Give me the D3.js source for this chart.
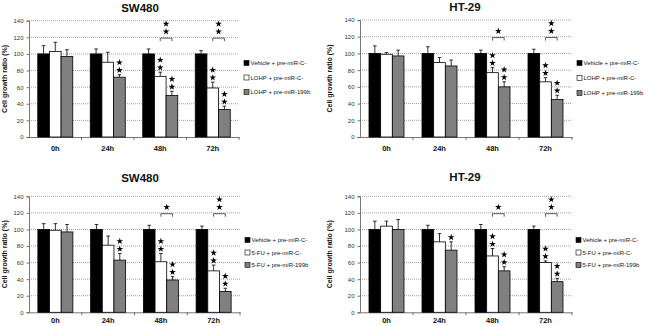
<!DOCTYPE html>
<html><head><meta charset="utf-8">
<script src="https://cdn.jsdelivr.net/npm/d3@7"></script>
<style>body{margin:0;background:#fff;}svg{display:block;}</style>
</head><body>
<svg id="chart" width="650" height="326"></svg>
<script>
// ---------- DATA ----------
const categories = ["0h", "24h", "48h", "72h"];
const yTicks = [0, 20, 40, 60, 80, 100, 120, 140];

// Panel A: SW480, LOHP
const a_title = "SW480";
const a_legend = ["Vehicle + pre-miR-C-", "LOHP + pre-miR-C-", "LOHP + pre-miR-199b"];
const a_vehicle = [100, 100, 100, 100];
const a_vehicleErr = [10, 6, 6, 4];
const a_drugC = [103, 90, 73, 59];
const a_drugCErr = [11, 12, 5, 7];
const a_drug199 = [97, 72, 50, 33];
const a_drug199Err = [8, 3, 5, 4];
const a_starsC = [0, 0, 2, 2];
const a_stars199 = [0, 2, 2, 2];
const a_bracketStars = [0, 0, 2, 2];

// Panel B: HT-29, LOHP
const b_title = "HT-29";
const b_legend = ["Vehicle + pre-miR-C-", "LOHP + pre-miR-C-", "LOHP + pre-miR-199b"];
const b_vehicle = [100, 100, 100, 100];
const b_vehicleErr = [9, 8, 4, 5];
const b_drugC = [99, 89, 77, 66];
const b_drugCErr = [2, 6, 6, 5];
const b_drug199 = [97, 85, 60, 45];
const b_drug199Err = [7, 7, 6, 5];
const b_starsC = [0, 0, 2, 2];
const b_stars199 = [0, 0, 2, 2];
const b_bracketStars = [0, 0, 1, 2];

// Panel C: SW480, 5-FU
const c_title = "SW480";
const c_legend = ["Vehicle + pre-miR-C-", "5-FU + pre-miR-C-", "5-FU + pre-miR-199b"];
const c_vehicle = [100, 100, 100, 100];
const c_vehicleErr = [7, 6, 5, 4];
const c_drugC = [99, 81, 61, 50];
const c_drugCErr = [8, 11, 10, 7];
const c_drug199 = [97, 63, 39, 25];
const c_drug199Err = [9, 8, 4, 4];
const c_starsC = [0, 0, 2, 2];
const c_stars199 = [0, 2, 2, 2];
const c_bracketStars = [0, 0, 1, 2];

// Panel D: HT-29, 5-FU
const d_title = "HT-29";
const d_legend = ["Vehicle + pre-miR-C-", "5-FU + pre-miR-C-", "5-FU + pre-miR-199b"];
const d_vehicle = [100, 100, 100, 100];
const d_vehicleErr = [10, 5, 6, 4];
const d_drugC = [104, 85, 68, 60];
const d_drugCErr = [6, 10, 9, 2];
const d_drug199 = [100, 75, 50, 37];
const d_drug199Err = [12, 10, 5, 4];
const d_starsC = [0, 0, 2, 2];
const d_stars199 = [0, 1, 2, 2];
const d_bracketStars = [0, 0, 1, 2];

const yLabel = "Cell growth ratio (%)";

// ---------- LAYOUT ----------
const panels = [
  {title:a_title, legend:a_legend, vals:[a_vehicle,a_drugC,a_drug199], errs:[a_vehicleErr,a_drugCErr,a_drug199Err],
   stars:[null,a_starsC,a_stars199], bracket:a_bracketStars,
   x0:29, x1:239, yT:20.7, yB:137, tx:140, ty:12, lx:244, ly:[63,77.5,92], ylx:4, xlab:13.5},
  {title:b_title, legend:b_legend, vals:[b_vehicle,b_drugC,b_drug199], errs:[b_vehicleErr,b_drugCErr,b_drug199Err],
   stars:[null,b_starsC,b_stars199], bracket:b_bracketStars,
   x0:360, x1:572, yT:20, yB:137, tx:465, ty:11, lx:577, ly:[63,78,93], ylx:329, xlab:13.5},
  {title:c_title, legend:c_legend, vals:[c_vehicle,c_drugC,c_drug199], errs:[c_vehicleErr,c_drugCErr,c_drug199Err],
   stars:[null,c_starsC,c_stars199], bracket:c_bracketStars,
   x0:29, x1:240, yT:196.3, yB:312.3, tx:140, ty:182, lx:245, ly:[240,252.5,265], ylx:4, xlab:10.5},
  {title:d_title, legend:d_legend, vals:[d_vehicle,d_drugC,d_drug199], errs:[d_vehicleErr,d_drugCErr,d_drug199Err],
   stars:[null,d_starsC,d_stars199], bracket:d_bracketStars,
   x0:360, x1:572, yT:196.3, yB:312.3, tx:465, ty:181, lx:576, ly:[240,252.5,265], ylx:329, xlab:10.5}
];

const fills = ["#000000", "#ffffff", "#808080"];
const FONT = "'Liberation Sans', Arial, sans-serif";
const svg = d3.select("#chart");
const starSym = d3.symbol().type(d3.symbolStar).size(14);

panels.forEach(p => {
  const g = svg.append("g");
  const x = d3.scaleBand().domain(categories).range([p.x0, p.x1]).paddingInner(0).paddingOuter(0);
  const inner = d3.scaleBand().domain([0,1,2]).range([0, 35]);
  const groupOff = (x.bandwidth() - 35) / 2;
  const y = d3.scaleLinear().domain([0, 140]).range([p.yB, p.yT]);

  // grid
  g.selectAll(".grid").data(yTicks.filter(t => t > 0)).join("line")
    .attr("x1", p.x0).attr("x2", p.x1)
    .attr("y1", d => y(d)).attr("y2", d => y(d))
    .attr("stroke", "#888").attr("stroke-width", 0.8).attr("stroke-dasharray", "1,1");

  // y axis
  const yAxis = d3.axisLeft(y).tickValues(yTicks).tickSize(2.5).tickPadding(3);
  const ya = g.append("g").attr("transform", `translate(${p.x0},0)`).call(yAxis);
  ya.select(".domain").attr("stroke", "#555").attr("stroke-width", 0.8);
  ya.selectAll(".tick line").attr("stroke", "#555").attr("stroke-width", 0.8);
  ya.selectAll("text").attr("font-family", FONT).attr("font-size", "6px").attr("fill", "#333");

  // x axis
  const xa = g.append("g").attr("transform", `translate(0,${p.yB})`)
    .call(d3.axisBottom(x).tickSize(0));
  xa.select(".domain").attr("stroke", "#555").attr("stroke-width", 0.8);
  xa.selectAll("text").attr("y", p.xlab).attr("dy", null)
    .attr("font-family", FONT).attr("font-size", "7.5px").attr("font-weight", "bold").attr("fill", "#111");
  g.selectAll(".xtick").data(categories).join("line")
    .attr("x1", (d,i) => p.x0 + (i+1) * x.bandwidth()).attr("x2", (d,i) => p.x0 + (i+1) * x.bandwidth())
    .attr("y1", p.yB).attr("y2", p.yB + 3).attr("stroke", "#555").attr("stroke-width", 0.8);

  // bars
  const bars = [];
  categories.forEach((c, ci) => {
    [0,1,2].forEach(s => {
      bars.push({c, ci, s, v: p.vals[s][ci], e: p.errs[s][ci],
        n: p.stars[s] ? p.stars[s][ci] : 0});
    });
  });
  const bx = d => x(d.c) + groupOff + inner(d.s);
  const bw = inner.bandwidth();

  // error bars (up only)
  g.selectAll(".err").data(bars).join("line")
    .attr("x1", d => bx(d) + bw/2).attr("x2", d => bx(d) + bw/2)
    .attr("y1", d => y(d.v)).attr("y2", d => y(d.v + d.e))
    .attr("stroke", "#000").attr("stroke-width", 0.8);
  g.selectAll(".cap").data(bars).join("line")
    .attr("x1", d => bx(d) + bw/2 - 1.8).attr("x2", d => bx(d) + bw/2 + 1.8)
    .attr("y1", d => y(d.v + d.e)).attr("y2", d => y(d.v + d.e))
    .attr("stroke", "#000").attr("stroke-width", 0.8);

  g.selectAll(".bar").data(bars).join("rect")
    .attr("x", d => bx(d)).attr("width", bw)
    .attr("y", d => y(d.v)).attr("height", d => y(0) - y(d.v))
    .attr("fill", d => fills[d.s]).attr("stroke", "#000").attr("stroke-width", 0.8);

  // stars above bars
  const starPts = [];
  bars.forEach(d => {
    for (let k = 0; k < d.n; k++) {
      starPts.push({x: bx(d) + bw/2, y: y(d.v + d.e) - 4.5 - k * 7.7});
    }
  });
  // brackets
  const brk = [];
  categories.forEach((c, ci) => {
    const n = p.bracket[ci];
    if (!n) return;
    const xa1 = x(c) + groupOff + inner(1) + bw/2;
    const xa2 = x(c) + groupOff + inner(2) + bw/2;
    const yb = y(119);
    brk.push({xa1, xa2, yb});
    for (let k = 0; k < n; k++) starPts.push({x: (xa1 + xa2)/2, y: yb - 6.5 - k * 7.7});
  });
  g.selectAll(".brk").data(brk).join("path")
    .attr("d", d => `M${d.xa1},${d.yb + 3}V${d.yb}H${d.xa2}V${d.yb + 3}`)
    .attr("fill", "none").attr("stroke", "#333").attr("stroke-width", 0.8);
  g.selectAll(".star").data(starPts).join("path")
    .attr("d", starSym).attr("transform", d => `translate(${d.x},${d.y})`)
    .attr("fill", "#000");

  // title
  g.append("text").attr("x", p.tx).attr("y", p.ty).attr("text-anchor", "middle")
    .attr("font-family", FONT).attr("font-size", "11.5px").attr("font-weight", "bold").attr("fill", "#111")
    .text(p.title);

  // y label
  g.append("text").attr("transform", `translate(${p.ylx + 3},${(p.yT + p.yB)/2}) rotate(-90)`)
    .attr("text-anchor", "middle").attr("font-family", FONT).attr("font-size", "7px")
    .attr("font-weight", "bold").attr("fill", "#111").text(yLabel);

  // legend
  const lg = g.selectAll(".leg").data(p.legend).join("g")
    .attr("transform", (d,i) => `translate(${p.lx},${p.ly[i]})`);
  lg.append("rect").attr("x", 0).attr("y", -2.5).attr("width", 5).attr("height", 5)
    .attr("fill", (d,i) => fills[i]).attr("stroke", "#000").attr("stroke-width", 0.6);
  lg.append("text").attr("x", 6.5).attr("y", 2.2)
    .attr("font-family", FONT).attr("font-size", "6px").attr("fill", "#111").text(d => d);
});
</script>
</body></html>
